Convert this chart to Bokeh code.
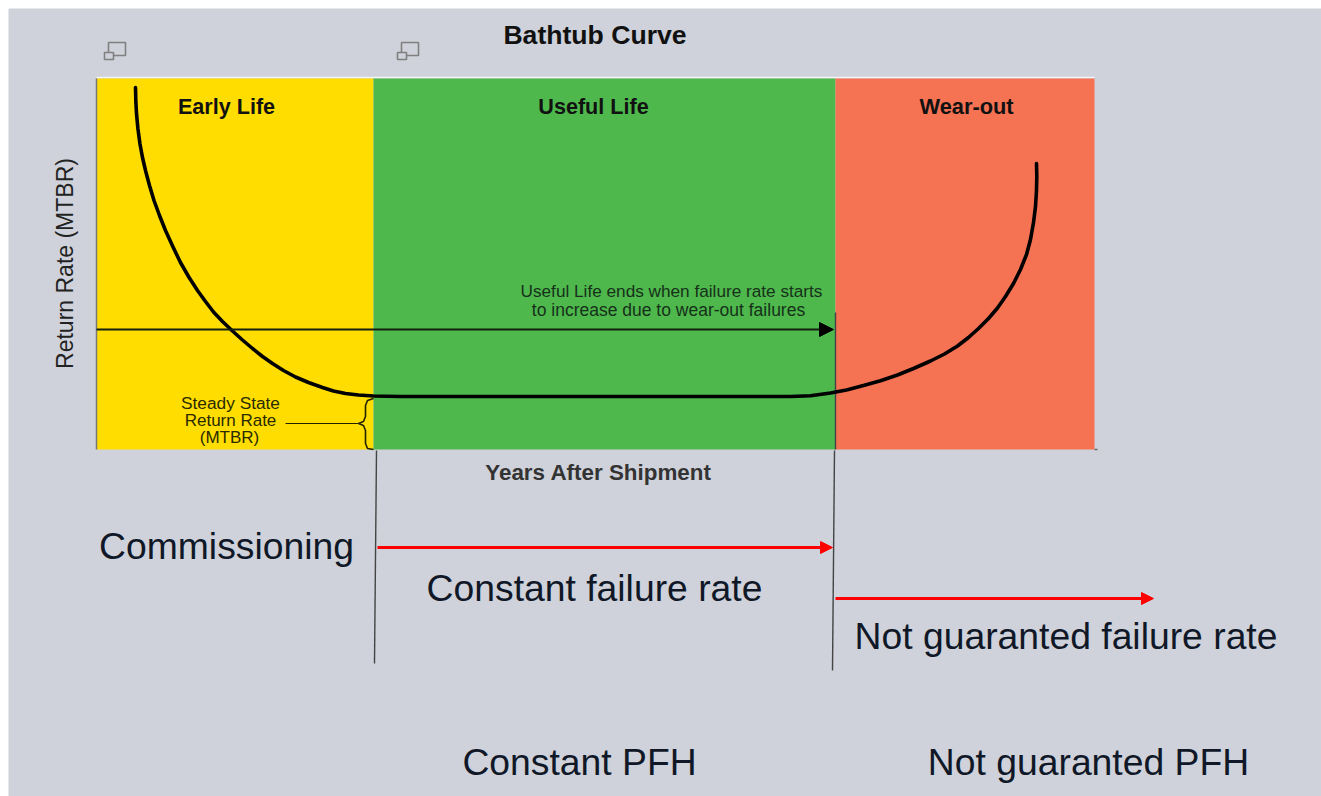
from bokeh.plotting import figure
from bokeh.models import Range1d, Label, Arrow, NormalHead
from bokeh.embed import file_html
from bokeh.resources import INLINE

# scene units: one unit is one reference pixel, measured down from the top of the image
zone_names = ["Early Life", "Useful Life", "Wear-out"]
zone_edges = [96, 373, 835, 1094]
zone_colors = ["#ffdd00", "#4eb84c", "#f57253"]
zone_top = 78
zone_bottom = 449

curve_x = [135, 135.3, 136, 137.4, 139.4, 142, 145, 149, 153.5, 159, 165, 172.3, 180, 188, 197, 205, 213, 222, 232,
           242, 252, 262, 272, 283, 295, 308, 322, 333, 345, 358, 373, 400, 500, 650, 790, 810, 830, 846, 863, 880,
           897, 913, 930, 944, 957, 968, 978, 988, 997, 1005, 1013, 1020, 1026, 1030, 1033, 1035, 1036, 1036.3, 1036]
curve_y = [87, 100, 113, 128, 143, 157, 170, 185, 200, 215, 230, 246, 262, 276, 290, 301, 311.5, 321, 330.5,
           339.5, 348, 356, 363, 370, 376.5, 382, 387, 390.5, 393, 394.5, 395.5, 396, 396, 396, 396, 395.3, 392.5,
           389.5, 385, 380.3, 374.5, 368, 360.5, 353.5, 345.5, 337, 328, 318, 307.5, 296, 283, 269, 254, 239, 222,
           206, 190, 176, 163]

brace_x = [373, 367, 365, 365, 363, 358, 363, 365, 365, 367, 373]
brace_y = [398, 400, 405, 416, 421, 423, 425, 430, 443, 448, 449]

W, H = 1313, 788
BG = "#cfd2da"
p = figure(width=W, height=H, output_backend="svg", toolbar_location=None,
           x_range=Range1d(8, 8 + W), y_range=Range1d(8 + H, 8),
           x_axis_type=None, y_axis_type=None, min_border=0, margin=(8, 0, 0, 8),
           background_fill_color=BG, border_fill_color=BG, outline_line_color=None)
p.grid.visible = False

p.segment([96], [77], [1094], [77], line_color="#f4f5f7", line_width=1.5)
p.quad(left=zone_edges[:-1], right=zone_edges[1:], top=[zone_top] * 3, bottom=[zone_bottom] * 3,
       fill_color=zone_colors, line_color=None)
p.segment([96], [78], [96], [449], line_color="#777777", line_width=1.5)
p.segment([1094], [449], [1097], [449], line_color="#666666", line_width=1.5)


def txt(x, y, s, size, color="#111111", style="normal", align="center", angle=0):
    p.add_layout(Label(x=x, y=y, text=s, text_font="Liberation Sans", text_font_size=f"{size}px",
                       text_color=color, text_font_style=style, text_align=align,
                       text_baseline="middle", angle=angle, angle_units="deg"))


# dividers
p.segment([376, 835, 834], [450, 312, 450], [374, 835, 832], [663, 449, 670], line_color="#444444", line_width=1.4)

# curve
p.line(curve_x, curve_y, line_color="#000000", line_width=3.6, line_join="round", line_cap="round")

# arrows
p.add_layout(Arrow(end=NormalHead(size=14, fill_color="#000000", line_color="#000000"),
                   x_start=96, y_start=329, x_end=833, y_end=329, line_color="#14200f", line_width=2))
p.add_layout(Arrow(end=NormalHead(size=12, fill_color="#ff0000", line_color="#ff0000"),
                   x_start=377, y_start=547, x_end=832, y_end=547, line_color="#ff0000", line_width=3))
p.add_layout(Arrow(end=NormalHead(size=12, fill_color="#ff0000", line_color="#ff0000"),
                   x_start=835, y_start=598, x_end=1153, y_end=598, line_color="#ff0000", line_width=3))

# brace and leader
p.line(brace_x, brace_y, line_color="#222200", line_width=1.6)
p.segment([285], [423], [358], [423], line_color="#222200", line_width=1.2)

# small window icons
for ix in (104, 397):
    p.quad(left=[ix + 4], right=[ix + 21], top=[42], bottom=[55], fill_color=None, line_color="#808080", line_width=1.6)
    p.quad(left=[ix], right=[ix + 9], top=[52], bottom=[59], fill_color=BG, line_color="#808080", line_width=1.6)

# texts
txt(594.5, 34, "Bathtub Curve", 26.6, style="bold")
txt(226, 106, "Early Life", 21.6, style="bold")
txt(593, 106, "Useful Life", 21.6, style="bold")
txt(966, 106, "Wear-out", 21.8, style="bold")
txt(671, 290, "Useful Life ends when failure rate starts", 17.2, color="#16301a")
txt(668, 309, "to increase due to wear-out failures", 17.5, color="#16301a")
txt(230, 402.5, "Steady State", 17.3, color="#2a2a00")
txt(230, 420, "Return Rate", 17, color="#2a2a00")
txt(229, 437, "(MTBR)", 17, color="#2a2a00")
txt(64, 263, "Return Rate (MTBR)", 23, color="#222222", angle=90)
txt(598, 472, "Years After Shipment", 22.4, color="#333333", style="bold")
txt(226, 545, "Commissioning", 37.3, color="#101828")
txt(594, 587, "Constant failure rate", 37.3, color="#101828")
txt(1065.5, 635, "Not guaranted failure rate", 37.3, color="#101828")
txt(579, 761, "Constant PFH", 37.3, color="#101828")
txt(1088, 761, "Not guaranted PFH", 37.3, color="#101828")

open("out.html", "w").write(file_html(p, INLINE))
